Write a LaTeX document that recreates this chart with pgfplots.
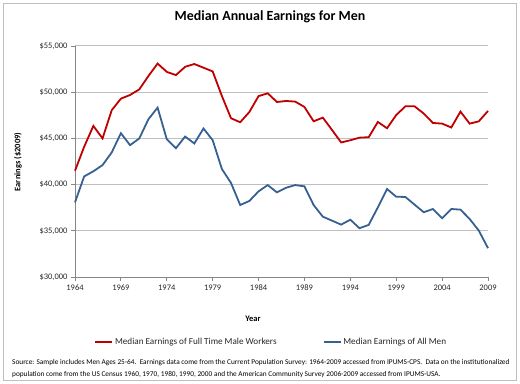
\documentclass[border=0pt]{standalone}
\usepackage{pgfplots}
\pgfplotsset{compat=1.18}
\usepackage{fontspec}
\setmainfont{Carlito}
\definecolor{redline}{RGB}{192,0,0}
\definecolor{blueline}{RGB}{55,96,146}
\definecolor{gridgray}{RGB}{191,191,191}
\definecolor{axgray}{RGB}{134,134,134}
\begin{document}
\begin{tikzpicture}
\path[use as bounding box] (-75bp,-107bp) rectangle (445bp,277bp);
\draw[color=gridgray, line width=0.8bp] (-72bp,-103bp) rectangle (441bp,274bp);
\begin{axis}[
  at={(0,0)}, anchor=south west,
  scale only axis, width=413bp, height=231bp,
  xmin=1964, xmax=2009, ymin=30000, ymax=55000,
  axis lines=left,
  axis line style={draw=axgray, line width=0.8bp, -},
  xtick={1964,1969,1974,1979,1984,1989,1994,1999,2004,2009},
  xticklabels={1964,1969,1974,1979,1984,1989,1994,1999,2004,2009},
  ytick={30000,35000,40000,45000,50000,55000},
  yticklabels={{\$30,000},{\$35,000},{\$40,000},{\$45,000},{\$50,000},{\$55,000}},
  scaled y ticks=false,
  tick align=outside,
  major tick length=4bp,
  tick style={draw=axgray, line width=0.8bp},
  ymajorgrids,
  grid style={draw=gridgray, line width=1bp},
  tick label style={font=\fontsize{8.5}{10}\selectfont, text=black!85},
  /pgf/number format/assume math mode=true,
  legend columns=2,
  legend style={at={(0.475,-0.281)}, anchor=center, draw=none, fill=none,
    font=\fontsize{9.2}{11}\selectfont, text=black!85,
    /tikz/every even column/.append style={column sep=44bp}},
  legend cell align=left,
  clip=false,
]
\addplot[redline, line width=1.8bp] coordinates {
(1964,41500) (1965,44100) (1966,46350) (1967,45000) (1968,48050)
(1969,49300) (1970,49700) (1971,50300) (1972,51750) (1973,53100)
(1974,52200) (1975,51850) (1976,52750) (1977,53050) (1978,52650)
(1979,52250) (1980,49600) (1981,47180) (1982,46750) (1983,47860)
(1984,49580) (1985,49880) (1986,48940) (1987,49050) (1988,48980)
(1989,48400) (1990,46850) (1991,47250) (1992,45920) (1993,44560)
(1994,44800) (1995,45080) (1996,45130) (1997,46780) (1998,46100)
(1999,47530) (2000,48470) (2001,48470) (2002,47690) (2003,46670)
(2004,46600) (2005,46180) (2006,47900) (2007,46600) (2008,46850)
(2009,47970)};
\addlegendentry{Median Earnings of Full Time Male Workers}
\addplot[blueline, line width=1.8bp] coordinates {
(1964,38080) (1965,40890) (1966,41440) (1967,42110) (1968,43480)
(1969,45560) (1970,44270) (1971,44990) (1972,47070) (1973,48330)
(1974,44910) (1975,43940) (1976,45200) (1977,44450) (1978,46070)
(1979,44810) (1980,41700) (1981,40170) (1982,37790) (1983,38230)
(1984,39270) (1985,39950) (1986,39160) (1987,39660) (1988,39950)
(1989,39810) (1990,37790) (1991,36530) (1992,36100) (1993,35670)
(1994,36200) (1995,35280) (1996,35640) (1997,37540) (1998,39520)
(1999,38690) (2000,38660) (2001,37830) (2002,37010) (2003,37360)
(2004,36360) (2005,37360) (2006,37290) (2007,36280) (2008,35020)
(2009,33120)};
\addlegendentry{Median Earnings of All Men}
\end{axis}
\node[font=\fontsize{14}{16}\selectfont\bfseries] at (195bp,260bp) {Median Annual Earnings for Men};
\node[font=\fontsize{8.5}{10}\selectfont\bfseries, rotate=90] at (-57bp,115bp) {Earnings (\$2009)};
\node[font=\fontsize{8.5}{10}\selectfont\bfseries] at (178bp,-42bp) {Year};
\node[font=\fontsize{7.35}{8}\selectfont, anchor=west, inner sep=0pt] at (-63bp,-86bp) {Source: Sample includes Men Ages 25-64.\ \ Earnings data come from the Current Population Survey: 1964-2009 accessed from IPUMS-CPS.\ \ Data on the institutionalized};
\node[font=\fontsize{7.35}{8}\selectfont, anchor=west, inner sep=0pt] at (-63bp,-98bp) {population come from the US Census 1960, 1970, 1980, 1990, 2000 and the American Community Survey 2006-2009 accessed from IPUMS-USA.};
\end{tikzpicture}
\end{document}
